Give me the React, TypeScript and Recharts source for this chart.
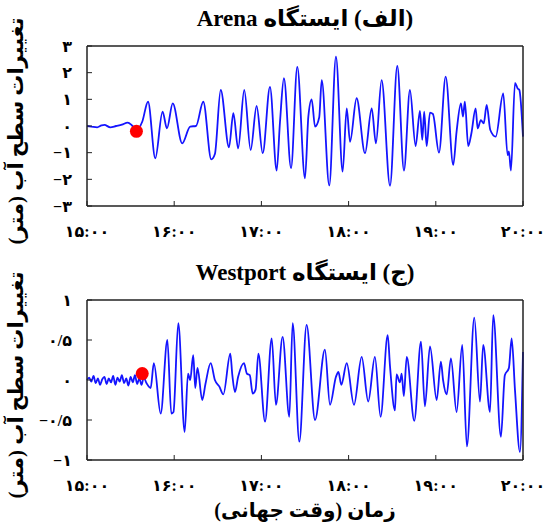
import { LineChart, Line, XAxis, YAxis, ReferenceDot } from "recharts";

// minutes after 15:00 UTC
const hourTicks = [0, 60, 120, 180, 240, 300];
const hourLabels = ["۱۵:۰۰", "۱۶:۰۰", "۱۷:۰۰", "۱۸:۰۰", "۱۹:۰۰", "۲۰:۰۰"];

const arenaTicks = [-3, -2, -1, 0, 1, 2, 3];
const arenaTickLabels = ["−۳", "−۲", "−۱", "۰", "۱", "۲", "۳"];
const westportTicks = [-1, -0.5, 0, 0.5, 1];
const westportTickLabels = ["−۱", "−۰/۵", "۰", "۰/۵", "۱"];

const arenaMinutes = [
  0, 3, 7, 10, 12, 16, 20, 24, 28, 31, 34, 38, 42, 47, 52, 55, 59, 65.5, 71, 75,
  80, 85.5, 88, 92, 97.7, 100.7, 104, 108.2, 112.6, 116.7, 120.9, 125.9, 130.5,
  132.8, 135.5, 140.4, 144.7, 150, 152.3, 154.6, 156.9, 159.8, 161.5, 166.7,
  171.3, 175.9, 178.7, 181, 185.5, 191.3, 195.9, 198.8, 202.7, 208.5, 213.5,
  218.1, 222.2, 226.1, 229.1, 230.7, 232, 233.7, 236, 238, 242.2, 246.8, 252,
  254.3, 257.3, 258.7, 260, 262.3, 264.5, 267.4, 268.8, 271, 273, 275, 277.5,
  281.2, 286.4, 289.4, 290.3, 291.7, 294.5, 296.3, 297.5, 300,
];
const arenaLevel = [
  0, -0.02, -0.05, 0.02, 0.04, -0.05, 0, 0.05, 0.13, 0.02, -0.15, 0.16, 0.91,
  -1.21, 0.54, -0.09, 0.85, -0.65, -0.02, 0, 0.91, -1.25, -1.05, 1.35, -0.8,
  0.48, -0.84, 1.35, -0.9, 0.75, -1.02, 1.47, -1.67, 0.16, 1.79, -1.58, 2.22,
  -1.96, 0.35, 1.0, -0.02, 0.33, 1.72, -2.23, 2.6, -1.71, 0.66, -0.59, 1.04,
  -1.02, 0.66, -0.65, 1.72, -2.24, 2.25, -1.67, 1.35, -0.75, 0.57, -0.52, 0.54,
  -0.75, 0.5, 0.45, -1.0, 1.85, -1.46, -0.21, 0.85, 0.35, 0.91, -0.75, -0.27,
  0.66, -0.09, 0.22, 0.1, 0.79, -0.15, -0.4, 1.22, -1.09, -0.95, -1.67, 1.62,
  1.41, 1.35, -0.4,
];
const arenaArrival = { minute: 34, level: -0.2 };

const westportMinutes = [
  0, 1.5, 3, 4.5, 6, 7.5, 9, 10.5, 12, 13.5, 15, 16.5, 18, 19.5, 21, 22.5, 24,
  25.5, 27, 28.5, 30, 31.5, 33, 34.5, 36, 37.5, 39, 41, 43.8, 46, 50.7, 55.3, 58,
  59.5, 62.8, 67.2, 69.5, 71, 73.1, 74.5, 76, 79.3, 81.5, 85.1, 88, 91, 93.8,
  98.6, 100, 101.8, 104, 108, 110, 112, 114, 116, 117.9, 122.5, 127.1, 130,
  134.6, 139.2, 141.5, 146.1, 151.1, 156.9, 163.7, 167.2, 171.3, 173, 175,
  178.7, 183.7, 189, 193.5, 198.1, 202, 206.9, 208.5, 211.9, 213, 215.3, 216.5,
  218, 220, 225.2, 229.8, 232.5, 236, 240.6, 243.5, 245, 247.5, 250.4, 254.3,
  258.2, 261.4, 266.5, 270.4, 272.6, 277.3, 279.5, 284.8, 287.5, 290.3, 292.2,
  294.5, 297.9, 300,
];
const westportLevel = [
  0, 0.03, -0.02, 0.05, -0.04, 0.02, -0.06, 0.01, 0.04, -0.05, 0.02, -0.03,
  0.05, -0.06, 0.03, -0.02, 0.06, -0.04, 0.02, -0.07, 0.04, -0.03, 0.06, -0.05,
  0.02, -0.06, 0.03, -0.04, -0.1, 0.21, -0.42, 0.5, -0.42, -0.4, 0.71, -0.65,
  0.08, 0.0, 0.31, -0.1, 0.15, -0.25, -0.05, 0.21, 0.0, -0.08, -0.18, 0.33, 0.06,
  -0.15, 0.04, 0.21, 0.08, 0.06, -0.17, -0.12, 0.33, -0.52, 0.52, -0.31, 0.54,
  -0.46, 0.71, -0.77, 0.69, -0.5, 0.38, -0.31, 0.04, 0.1, -0.06, 0.21, -0.31,
  0.29, -0.27, 0.29, -0.46, 0.56, 0.17, -0.38, 0.07, -0.03, 0.08, -0.2, 0.29,
  -0.51, 0.48, -0.33, 0.42, -0.25, 0.23, 0.0, -0.18, 0.27, -0.4, 0.44, -0.83,
  0.78, -0.27, 0.44, -0.4, 0.81, -0.71, 0.06, 0.15, 0.52, -0.13, -0.9, 0.35,
];
const westportArrival = { minute: 38, level: 0.08 };

const FONT = "'Liberation Serif', 'DejaVu Sans', serif";
const AXIS = "#222";

function Panel({ top, title, minutes, level, yTicks, yLabels, arrival }) {
  const data = minutes.map((m, i) => ({ minute: m, level: level[i] }));
  const domain = [yTicks[0], yTicks[yTicks.length - 1]];
  const tickStyle = { fill: "#000", fontSize: 16, fontWeight: "bold", fontFamily: FONT };
  return (
    <div style={{ position: "absolute", left: 0, top, width: 554, height: 250 }}>
      <div
        dir="rtl"
        style={{
          position: "absolute", left: 105, top: 5, width: 400, textAlign: "center",
          fontFamily: FONT, fontWeight: "bold", fontSize: 23, lineHeight: "28px", color: "#000",
        }}
      >
        {title}
      </div>
      <div
        dir="rtl"
        style={{
          position: "absolute", left: 16 - 140, top: 131 - 14, width: 280, height: 28,
          lineHeight: "28px", textAlign: "center", transform: "rotate(-90deg)",
          fontFamily: FONT, fontWeight: "bold", fontSize: 21, color: "#000", whiteSpace: "nowrap",
        }}
      >
        تغییرات سطح آب (متر)
      </div>
      <LineChart
        width={554}
        height={250}
        data={data}
        margin={{ top: 45, right: 30, bottom: 14, left: 27 }}
        style={{ position: "absolute", left: 0, top: 0 }}
      >
        <XAxis
          dataKey="minute"
          type="number"
          domain={[0, 300]}
          ticks={hourTicks}
          tickFormatter={(v) => hourLabels[hourTicks.indexOf(v)]}
          height={30}
          tickSize={-5}
          tickMargin={25}
          tick={tickStyle}
          axisLine={{ stroke: AXIS, strokeWidth: 1.5 }}
          tickLine={{ stroke: AXIS }}
          interval={0}
        />
        <XAxis
          xAxisId="top"
          orientation="top"
          dataKey="minute"
          type="number"
          domain={[0, 300]}
          ticks={hourTicks}
          height={1}
          tickSize={-5}
          tick={false}
          axisLine={{ stroke: AXIS, strokeWidth: 1.5 }}
          tickLine={{ stroke: AXIS }}
        />
        <YAxis
          type="number"
          domain={domain}
          ticks={yTicks}
          tickFormatter={(v) => yLabels[yTicks.indexOf(v)]}
          width={60}
          tickSize={-5}
          tickMargin={20}
          tick={tickStyle}
          axisLine={{ stroke: AXIS, strokeWidth: 1.5 }}
          tickLine={{ stroke: AXIS }}
          interval={0}
        />
        <YAxis
          yAxisId="right"
          orientation="right"
          type="number"
          domain={domain}
          ticks={yTicks}
          width={1}
          tickSize={-5}
          tick={false}
          axisLine={{ stroke: AXIS, strokeWidth: 1.5 }}
          tickLine={{ stroke: AXIS }}
        />
        <Line
          type="monotone"
          dataKey="level"
          stroke="#1414ff"
          strokeWidth={1.8}
          dot={false}
          isAnimationActive={false}
        />
        <ReferenceDot x={arrival.minute} y={arrival.level} r={6.5} fill="#ff0000" stroke="none" />
      </LineChart>
    </div>
  );
}

export default function App() {
  return (
    <div style={{ position: "absolute", left: 0, top: 0, width: 554, height: 526, background: "#fff" }}>
      <Panel
        top={0}
        title="(الف) ایستگاه Arena"
        minutes={arenaMinutes}
        level={arenaLevel}
        yTicks={arenaTicks}
        yLabels={arenaTickLabels}
        arrival={arenaArrival}
      />
      <Panel
        top={254}
        title="(ج) ایستگاه Westport"
        minutes={westportMinutes}
        level={westportLevel}
        yTicks={westportTicks}
        yLabels={westportTickLabels}
        arrival={westportArrival}
      />
      <div
        dir="rtl"
        style={{
          position: "absolute", left: 155, top: 497, width: 300, textAlign: "center",
          fontFamily: FONT, fontWeight: "bold", fontSize: 20, lineHeight: "26px", color: "#000",
        }}
      >
        زمان (وقت جهانی)
      </div>
    </div>
  );
}
